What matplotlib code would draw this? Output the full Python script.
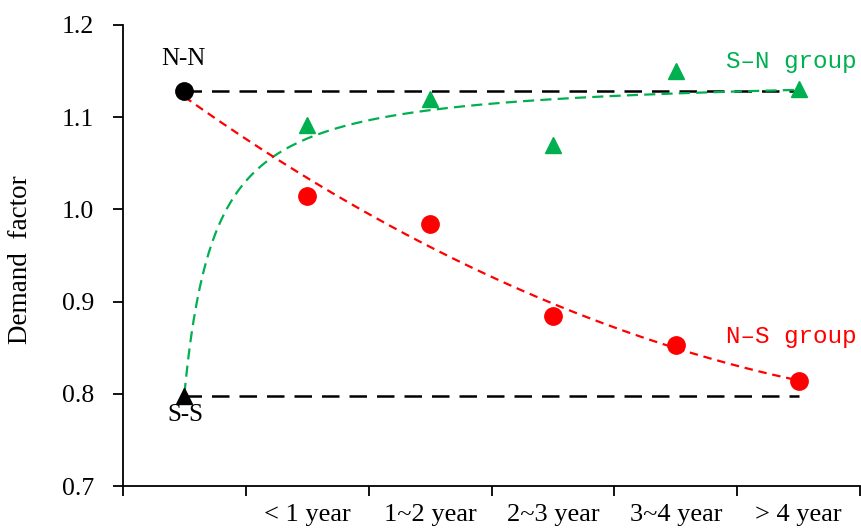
import numpy as np
import matplotlib
matplotlib.use("Agg")
import matplotlib.pyplot as plt

# ---- data ----
categories = ["", "< 1 year", "1~2 year", "2~3 year", "3~4 year", "> 4 year"]
nn_value = 1.128   # N-N reference
ss_value = 0.798   # S-S reference
sn_values = [1.091, 1.120, 1.070, 1.150, 1.130]   # S-N group
ns_values = [1.014, 0.984, 0.884, 0.853, 0.814]   # N-S group

plt.rcParams['font.family'] = ['Liberation Serif', 'DejaVu Serif']

fig = plt.figure(figsize=(8.62, 5.30), dpi=100)
ax = fig.add_axes([0.1427, 0.083, 0.855, 0.870])

xpos = np.arange(len(categories))
x_groups = xpos[1:]

green = '#00B050'
red = '#FF0000'

# reference dashed lines
ax.plot([xpos[0], xpos[-1]], [nn_value, nn_value], color='black', lw=1.8,
        dashes=(7, 4), zorder=2)
ax.plot([xpos[0], xpos[-1]], [ss_value, ss_value], color='black', lw=1.8,
        dashes=(7, 4), zorder=2)

# trend lines fitted from the data
xs = np.linspace(xpos[0], xpos[-1], 400)
# S-N: hyperbolic fit y = a + b/(x+c)
c = 0.25
x_sn = xpos.astype(float)
y_sn = np.array([ss_value] + sn_values)
b, a = np.polyfit(1.0 / (x_sn + c), y_sn, 1)
ax.plot(xs, a + b / (xs + c), color=green, lw=1.6, dashes=(5, 2.8), zorder=3)
# N-S: quadratic fit
y_ns = np.array([nn_value] + ns_values)
p = np.polyfit(x_sn, y_ns, 2)
ax.plot(xs, np.polyval(p, xs), color=red, lw=1.6, dashes=(3.8, 2.6), zorder=3)

# markers
ax.plot(x_groups, sn_values, linestyle='none', marker='^', color=green,
        markersize=12, zorder=4)
ax.plot(x_groups, ns_values, linestyle='none', marker='o', color=red,
        markersize=12.5, zorder=4)
ax.plot([xpos[0]], [nn_value], linestyle='none', marker='o', color='black',
        markersize=12.5, zorder=5)
ax.plot([xpos[0]], [ss_value], linestyle='none', marker='^', color='black',
        markersize=12, zorder=5)

# annotations
ax.text(xpos[0] - 0.01, 1.163, "N-N", ha='center', va='center', fontsize=18)
ax.text(xpos[0] + 0.01, 0.777, "S-S", ha='center', va='center', fontsize=18)
ax.text(5.47, 1.160, "S\u2013N group", ha='right', va='center', fontsize=17.5,
        color=green, family=['Liberation Mono', 'DejaVu Sans Mono'])
ax.text(5.47, 0.862, "N\u2013S group", ha='right', va='center', fontsize=17.5,
        color=red, family=['Liberation Mono', 'DejaVu Sans Mono'])

# axes
ax.set_xlim(-0.5, 5.5)
ax.set_ylim(0.7, 1.2)
ax.set_yticks([0.7, 0.8, 0.9, 1.0, 1.1, 1.2])
ax.set_yticklabels(["0.7", "0.8", "0.9", "1.0", "1.1", "1.2"], fontsize=18.5)
ax.set_xticks(np.arange(-0.5, 5.6, 1.0))
ax.set_xticklabels([])
ax.set_xticks(x_groups, minor=True)
ax.set_xticklabels(categories[1:], minor=True, fontsize=19)
ax.tick_params(axis='x', which='minor', length=0, pad=13)
ax.tick_params(axis='both', which='major', direction='out', length=7, width=1.3)
ax.tick_params(axis='y', pad=14)
ax.set_ylabel("Demand  factor", fontsize=19.5)
ax.yaxis.set_label_coords(-0.122, 0.49)

for s in ['top', 'right']:
    ax.spines[s].set_visible(False)
for s in ['left', 'bottom']:
    ax.spines[s].set_linewidth(1.3)

fig.savefig("out.png", dpi=100)
